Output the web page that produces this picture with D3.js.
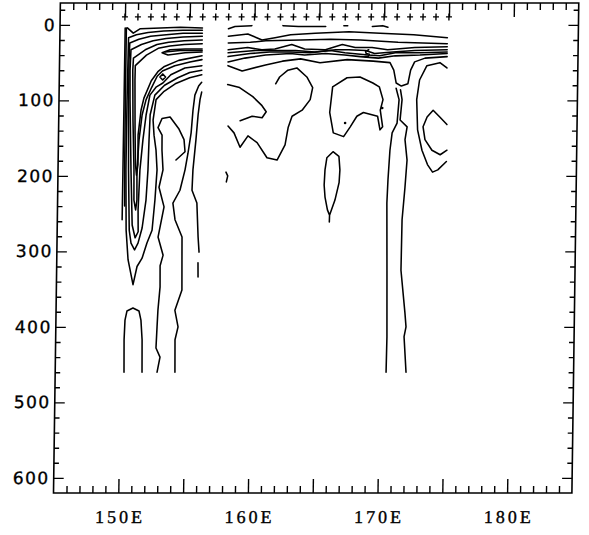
<!DOCTYPE html>
<html lang="en">
<head>
<meta charset="utf-8"/>
<title>Section contours 150E-175E</title>
<script src="https://cdn.jsdelivr.net/npm/d3@7"></script>
<style>
  body { margin: 0; background: #fff; }
  .contour { fill: none; stroke: #000; stroke-width: 1.55px; stroke-linejoin: round; stroke-linecap: round; }
  .frame { fill: none; stroke: #000; stroke-width: 1.6px; }
  .axis line { stroke: #000; stroke-width: 1.4px; }
  .stn { fill: none; stroke: #000; stroke-width: 1.4px; }
  .yaxis text { font-family: "DejaVu Sans", sans-serif; font-size: 17px; letter-spacing: 1.5px; fill: #000; stroke: #000; stroke-width: 0.35px; }
  .xaxis text { font-family: "Liberation Serif", serif; font-size: 18px; letter-spacing: 3px; fill: #000; stroke: #000; stroke-width: 0.35px; }
</style>
</head>
<body>
<div id="chart"></div>
<script>
// ---- axis labels and stations ----
var xLabelLon = [150, 160, 170, 180];
var xTickLabels = ["150E", "160E", "170E", "180E"];
var yLabels = [0, 100, 200, 300, 400, 500, 600];
var stations = [150, 151, 152, 153, 154, 155, 156, 157, 158, 159, 160, 161, 162,
                163, 164, 165, 166, 167, 168, 169, 170, 171, 172, 173, 174, 175];
var stationDepth = -10.6;

// ---- contour lines, [longitude, depth] ----
// western block (150E - 156E)
var bandB1 = [[150.03,4],[150.02,99],[150.01,192],[150.0,258]];
var bandB2 = [[150.12,4],[150.12,99],[150.14,192],[150.18,240]];
var surfaceV = [[150.2,4],[150.66,11],[151.2,5],[152.75,4],[154.29,3],[155.99,4]];
var loopA = [[155.99,7],[154.5,7],[153.0,8],[151.8,10],[150.9,13],[150.3,17],[150.25,99],
             [150.24,192],[150.32,272],[150.5,311],[150.91,344],[151.2,320],[151.58,309],[151.94,289],
             [152.32,272],[152.51,232],[152.64,192],[152.54,166],[152.37,146],[152.28,126],[152.49,99],
             [153.1,88],[153.95,78],[155.06,70],[155.99,66]];
var loopA2 = [[155.99,11],[154.5,11],[153.2,13],[152.0,15],[151.1,19],[150.4,24],[150.36,46],[150.37,99],
              [150.44,192],[150.56,272],[150.71,289],[150.99,298],[151.25,289],[151.55,269],[151.82,232],
              [151.94,192],[151.99,152],[152.05,119],[152.39,93],[153.13,80],[154.14,70],[155.06,63],[155.99,60]];
var loopB = [[155.99,15],[154.5,16],[153.2,18],[152.2,21],[151.3,26],[150.5,33],[150.45,60],[150.48,99],
             [150.63,192],[150.78,265],[151.02,282],[151.25,274],[151.22,245],[151.32,192],[151.52,152],
             [151.74,119],[152.01,93],[152.5,82],[153.0,77],[153.6,66],[154.68,57],[155.99,54]];
var loopC = [[155.99,20],[154.6,21],[153.4,23],[152.5,26],[151.6,33],[150.7,44],[150.66,60],[150.73,126],
             [150.86,192],[150.89,232],[151.03,245],[151.12,232],[151.09,192],[151.22,152],[151.43,119],
             [151.72,99],[152.13,83],[152.55,68],[152.95,61],[153.9,54],[155.06,49],[155.99,46]];
var loopD = [[155.99,25],[154.6,26],[153.5,28],[152.6,31],[151.7,40],[150.85,54],[150.84,73],[150.9,139],
             [150.97,185],[151.06,199],[151.16,185],[151.14,146],[151.34,113],[151.55,97],[152.1,74],
             [152.6,62],[153.1,55],[154.2,47],[155.99,41]];
var barE = [[155.99,32],[154.68,32],[153.52,33],[152.9,37],[153.36,40],[154.68,37],[155.99,36]];
var barE2 = [[155.99,34],[154.29,34],[153.13,36]];
var ringO = [[152.98,65],[153.2,69],[152.98,73],[152.76,69],[152.98,65]];
var lineL4 = [[152.86,460],[153.07,440],[152.75,428],[152.81,400],[152.86,378],[153.0,347],[152.98,319],
              [153.2,305],[152.79,281],[153.22,241],[152.81,215],[153.1,192],[153.0,166],[152.99,146],
              [152.67,136],[152.97,124],[153.59,122],[154.29,138],[154.69,152],[154.78,168],[154.09,179]];
var lineL5 = [[154.24,460],[154.21,417],[154.43,400],[154.17,378],[154.69,351],[154.66,311],[154.64,281],
              [154.08,258],[153.9,236],[154.43,219],[154.8,192],[155.01,170],[155.23,143],[155.35,113],
              [155.48,93],[155.76,81],[155.99,76]];
var lineL6 = [[155.97,301],[155.88,281],[155.75,236],[155.36,219],[155.41,192],[155.61,152],[155.75,119],
              [155.88,99],[156.0,89]];
var dashL6 = [[155.9,315],[155.92,334]];
var archU = [[150.31,460],[150.28,417],[150.33,391],[150.47,379],[150.93,375],[151.4,379],[151.56,391],
             [151.67,417],[151.7,460]];

// eastern block (158E - 175E)
var surf1 = [[158.0,5],[158.5,2],[159.8,1]];
var surf2 = [[162.2,1],[163.4,2],[165.5,2]];
var surf3 = [[166.9,1],[167.2,1]];
var surf4 = [[169.1,2],[169.9,1],[170.3,3]];
var therm2 = [[158.0,15],[159.5,12],[160.6,20],[161.6,17],[162.8,13],[164.7,11],[167.3,9],[169.7,11],[172.3,13],[174.9,17]];
var therm3 = [[158.0,24],[159.7,23],[160.9,21],[163.6,20],[165.9,19],[168.2,20],[171.1,23],[174.9,25]];
var therm4 = [[158.0,33],[159.5,30],[160.6,33],[161.6,32],[162.9,26],[163.9,32],[165.5,33],[166.8,26],
              [167.8,30],[169.1,30],[170.3,33],[172.4,30],[174.9,29]];
var therm5 = [[158.0,37],[160.1,34],[161.6,34],[163.2,34],[164.7,36],[166.3,33],[167.3,33],[168.6,34],
              [169.3,38],[170.7,36],[172.4,34],[174.9,33]];
var therm6 = [[158.0,42],[159.7,38],[161.2,36],[162.8,36],[164.3,37],[165.9,34],[167.0,37],[168.8,40],
              [169.7,41],[170.9,37],[172.8,37],[174.9,36]];
var therm7 = [[158.0,49],[159.3,44],[160.9,40],[162.8,38],[163.9,40],[165.5,38],[167.0,40],[168.2,42],
              [169.6,44],[170.9,41],[172.8,40],[174.9,38]];
var therm8 = [[158.0,54],[159.1,61],[160.9,53],[162.2,48],[163.6,45],[165.1,50],[167.2,46],[169.2,48],
              [170.5,50],[170.8,60],[171.0,77],[171.4,81],[171.9,78],[172.1,60],[172.4,49],[173.2,44],[174.9,42]];
var kink5 = [[168.85,33],[168.6,35],[168.65,38],[168.9,39],[168.8,42],[168.55,42]];
var deepV1 = [[171.0,84],[171.24,99],[171.11,130],[170.74,143],[170.59,166],[170.47,205],[170.41,236],
              [170.49,325],[170.56,413],[170.53,460]];
var deepV2 = [[171.34,86],[171.47,99],[171.34,126],[171.89,135],[171.74,152],[171.92,179],[171.79,215],
              [171.6,258],[171.57,325],[171.92,381],[172.02,400],[171.88,413],[172.07,460]];
var mitten = [[166.1,82],[167.2,70],[168.2,69],[169.2,77],[169.7,82],[170.0,99],[169.8,113],[170.0,135],
              [169.8,139],[169.6,121],[168.5,116],[168.0,121],[167.5,135],[167.0,148],[166.2,143],
              [165.9,116],[166.1,82]];
var mittenDots = [[167.1,130],[169.95,110]];
var bowR1 = [[174.9,57],[174.35,50],[173.35,54],[172.8,73],[172.6,99],[172.7,139],[173.06,166],
             [173.5,185],[173.9,195],[174.3,192],[174.96,181]];
var bowR2 = [[174.96,132],[174.4,122],[173.88,113],[173.42,122],[173.12,135],[173.28,152],[173.83,166],
             [174.47,172],[174.99,166]];
var lens = [[165.99,261],[166.0,252],[165.83,245],[165.63,228],[165.55,212],[165.6,192],[165.73,176],
            [166.2,168],[166.66,174],[166.75,192],[166.7,209],[166.4,232],[166.0,252]];
var hookK1 = [[158.0,79],[158.92,83],[159.95,95],[160.67,107],[161.0,115],[160.69,123],[159.92,121],[159.0,127]];
var zigK2 = [[158.07,134],[158.54,143],[159.02,162],[159.62,147],[160.33,156],[161.11,176],[161.89,179],
             [162.49,159],[162.71,136],[163.0,121],[163.77,113],[164.38,99],[164.56,83],[164.1,69],
             [163.32,57],[162.63,60],[162.0,69],[161.7,78]];
var arc158 = [[157.96,195],[158.1,200],[158.0,208]];

var contourLines = [bandB1, bandB2, surfaceV, loopA, loopA2, loopB, loopC, loopD, barE, barE2, ringO,
                    lineL4, lineL5, lineL6, dashL6, archU,
                    surf1, surf2, surf3, surf4, therm2, therm3, therm4, therm5, therm6, therm7, therm8,
                    kink5, deepV1, deepV2, mitten, bowR1, bowR2, lens, hookK1, zigK2, arc158];

// ---- scales ----
var width = 589, height = 535;
var x = d3.scaleLinear().domain([145, 185]).range([53.5, 571.9]);
var y = d3.scaleLinear().domain([-29, 620]).range([3, 493]);

var svg = d3.select("#chart").append("svg")
    .attr("width", width)
    .attr("height", height);

// the printed figure leans slightly: small horizontal shear
var plot = svg.append("g")
    .attr("transform", "matrix(1,0,-0.014,1," + (0.014 * 493) + ",0)");

plot.append("rect")
    .attr("class", "frame")
    .attr("x", x(145))
    .attr("y", y(-29))
    .attr("width", x(185) - x(145))
    .attr("height", y(620) - y(-29));

// tick positions
var majorX = [150, 155, 160, 165, 170, 175, 180];
var minorX = d3.range(146, 185).filter(function(d) { return d % 5 !== 0; });
var minorY = d3.range(-20, 620, 20).filter(function(d) { return d % 100 !== 0; });

function noDomain(g) { g.select(".domain").remove(); }

// bottom
plot.append("g").attr("class", "axis")
    .attr("transform", "translate(0," + y(620) + ")")
    .call(d3.axisBottom(x).tickValues(minorX).tickSize(-7).tickFormat(""))
    .call(noDomain);
plot.append("g").attr("class", "axis xaxis")
    .attr("transform", "translate(0," + y(620) + ")")
    .call(d3.axisBottom(x).tickValues(majorX).tickSize(-14).tickPadding(17)
      .tickFormat(function(d) {
        var i = xLabelLon.indexOf(d);
        return i < 0 ? "" : xTickLabels[i];
      }))
    .call(noDomain)
    .selectAll("text").attr("dx", "1.5px");

// top
plot.append("g").attr("class", "axis")
    .attr("transform", "translate(0," + y(-29) + ")")
    .call(d3.axisTop(x).tickValues(minorX).tickSize(-7).tickFormat(""))
    .call(noDomain);
plot.append("g").attr("class", "axis")
    .attr("transform", "translate(0," + y(-29) + ")")
    .call(d3.axisTop(x).tickValues(majorX).tickSize(-14).tickFormat(""))
    .call(noDomain);

// left
plot.append("g").attr("class", "axis")
    .attr("transform", "translate(" + x(145) + ",0)")
    .call(d3.axisLeft(y).tickValues(minorY).tickSize(-5).tickFormat(""))
    .call(noDomain);
plot.append("g").attr("class", "axis yaxis")
    .attr("transform", "translate(" + x(145) + ",0)")
    .call(d3.axisLeft(y).tickValues(yLabels).tickSize(-10).tickPadding(4))
    .call(noDomain);

// right
plot.append("g").attr("class", "axis")
    .attr("transform", "translate(" + x(185) + ",0)")
    .call(d3.axisRight(y).tickValues(minorY).tickSize(-5).tickFormat(""))
    .call(noDomain);
plot.append("g").attr("class", "axis")
    .attr("transform", "translate(" + x(185) + ",0)")
    .call(d3.axisRight(y).tickValues(yLabels).tickSize(-10).tickFormat(""))
    .call(noDomain);

// station marks
plot.selectAll(".stn")
    .data(stations)
  .enter().append("path")
    .attr("class", "stn")
    .attr("d", function(d) {
      var cx = x(d), cy = y(stationDepth);
      return "M" + (cx - 3) + "," + cy + "h6M" + cx + "," + (cy - 3.5) + "v7";
    });

// contours
var line = d3.line()
    .x(function(d) { return x(d[0]); })
    .y(function(d) { return y(d[1]); });

plot.selectAll(".contour")
    .data(contourLines)
  .enter().append("path")
    .attr("class", "contour")
    .attr("d", line);

plot.selectAll(".dot")
    .data(mittenDots)
  .enter().append("circle")
    .attr("class", "dot")
    .attr("cx", function(d) { return x(d[0]); })
    .attr("cy", function(d) { return y(d[1]); })
    .attr("r", 1.3)
    .attr("fill", "#000");
</script>
</body>
</html>
